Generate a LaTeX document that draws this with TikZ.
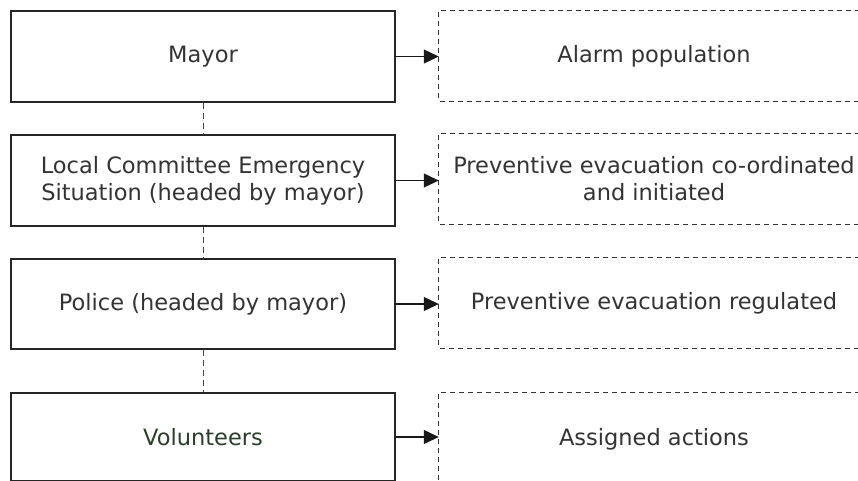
\documentclass[tikz,border=0pt]{standalone}
\usepackage{fontspec}
\setmainfont{DejaVu Sans}
\usetikzlibrary{arrows.meta}
\definecolor{inkgrey}{HTML}{333333}
\definecolor{inkgreen}{HTML}{2C3D2C}
\tikzset{
  x=1pt, y=-1pt,
  every node/.style={font=\fontsize{22.5}{27}\selectfont, text=inkgrey, align=center, inner sep=0pt},
  unit/.style={draw=black!85, line width=1.2pt, minimum width=384pt, minimum height=91pt},
  task/.style={minimum width=430pt, minimum height=90pt},
  taskedge/.style={draw=black!80, line width=1pt, dash pattern=on 5pt off 4pt},
  link/.style={draw=black!75, line width=1pt, dash pattern=on 6pt off 4pt},
  feed/.style={draw=black!90, line width=1.1pt, -{Triangle[length=15pt,width=14pt]}},
}
\begin{document}
\begin{tikzpicture}
\useasboundingbox (0,0) rectangle (858,480);
\clip (0,0) rectangle (858,480);

% chain of command
\node[unit] (mayor)  at (203,56.5)  {Mayor};
\node[unit] (lces)   at (203,180.5) {Local Committee Emergency\\Situation (headed by mayor)};
\node[unit, minimum height=90pt] (police) at (203,304) {Police (headed by mayor)};
\node[unit, minimum height=88pt, text=inkgreen] (vol) at (203,437) {Volunteers};

% resulting actions
\node[task] (alarm)  at (654,56)  {Alarm population};
\node[task] (evacco) at (654,179) {Preventive evacuation co-ordinated\\and initiated};
\node[task] (evacrg) at (654,303) {Preventive evacuation regulated};
\node[task, minimum height=92pt] (assign) at (654,439) {Assigned actions};

\foreach \t in {alarm,evacco,evacrg,assign}
  \draw[taskedge] (\t.north east) -- (\t.north west) -- (\t.south west) -- (\t.south east);

% dashed links between levels
\draw[link] (mayor.south) -- (lces.north);
\draw[link] (lces.south) -- (police.north);
\draw[link] (police.south) -- (vol.north);

% arrows to actions
\draw[feed] (mayor.east)  -- (mayor.east -| alarm.west);
\draw[feed] (lces.east)   -- (lces.east -| evacco.west);
\draw[feed] (police.east) -- (police.east -| evacrg.west);
\draw[feed] (vol.east)    -- (vol.east -| assign.west);
\end{tikzpicture}
\end{document}
